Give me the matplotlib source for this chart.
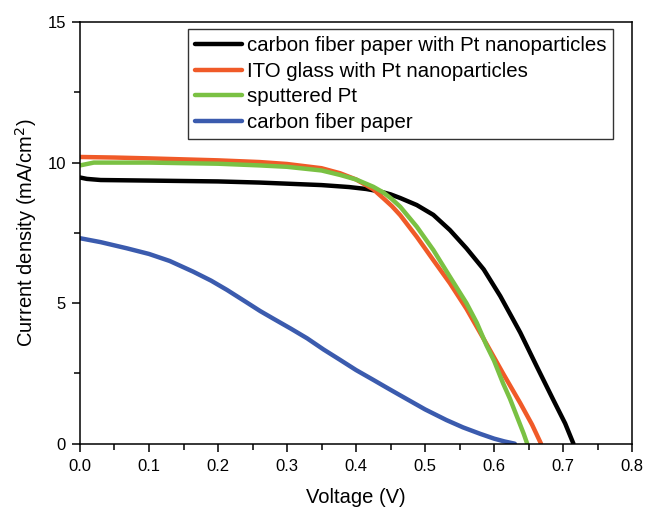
import matplotlib
matplotlib.use("Agg")
import matplotlib.pyplot as plt
from matplotlib.ticker import MultipleLocator

plt.rcParams['font.family'] = ['Liberation Sans', 'DejaVu Sans']

# Data (Voltage V, current density mA/cm^2)
v_black = [0.0, 0.01, 0.03, 0.1, 0.2, 0.26, 0.3, 0.35, 0.39, 0.415, 0.435, 0.45, 0.464, 0.488,
           0.512, 0.536, 0.56, 0.585, 0.609, 0.628, 0.638, 0.662, 0.686, 0.703, 0.715]
j_black = [9.47, 9.42, 9.38, 9.36, 9.33, 9.29, 9.25, 9.2, 9.13, 9.06, 8.97, 8.87, 8.74, 8.49,
           8.14, 7.6, 6.95, 6.2, 5.25, 4.4, 3.95, 2.74, 1.55, 0.72, 0.0]

v_red = [0.0, 0.05, 0.1, 0.2, 0.26, 0.3, 0.35, 0.377, 0.4, 0.425, 0.44, 0.452, 0.464, 0.488,
         0.512, 0.536, 0.56, 0.589, 0.613, 0.638, 0.655, 0.668]
j_red = [10.2, 10.18, 10.15, 10.08, 10.02, 9.95, 9.8, 9.62, 9.4, 9.05, 8.72, 8.45, 8.13, 7.36,
         6.53, 5.71, 4.8, 3.55, 2.5, 1.44, 0.68, 0.0]

v_green = [0.0, 0.02, 0.1, 0.2, 0.26, 0.3, 0.35, 0.377, 0.4, 0.425, 0.44, 0.452, 0.464, 0.488,
           0.512, 0.536, 0.56, 0.575, 0.589, 0.6, 0.613, 0.623, 0.635, 0.643, 0.648]
j_green = [9.9, 10.0, 10.0, 9.96, 9.9, 9.85, 9.72, 9.56, 9.4, 9.14, 8.93, 8.7, 8.43, 7.72,
           6.89, 5.94, 5.0, 4.3, 3.5, 2.95, 2.15, 1.6, 0.85, 0.35, 0.0]

v_blue = [0.0, 0.03, 0.068, 0.1, 0.13, 0.164, 0.19, 0.213, 0.24, 0.261, 0.28, 0.305, 0.329,
          0.353, 0.377, 0.4, 0.425, 0.444, 0.464, 0.5, 0.531, 0.555, 0.58, 0.6, 0.615, 0.63]
j_blue = [7.31, 7.17, 6.95, 6.75, 6.5, 6.12, 5.8, 5.47, 5.05, 4.72, 4.45, 4.1, 3.75,
          3.35, 2.98, 2.62, 2.27, 2.0, 1.72, 1.22, 0.84, 0.58, 0.35, 0.18, 0.08, 0.0]

labels = ["carbon fiber paper with Pt nanoparticles", "ITO glass with Pt nanoparticles",
          "sputtered Pt", "carbon fiber paper"]
colors = ["#000000", "#F05A28", "#7AC143", "#3B5BAE"]
xtick_labels = ["0.0", "0.1", "0.2", "0.3", "0.4", "0.5", "0.6", "0.7", "0.8"]
xtick_vals = [0.0, 0.1, 0.2, 0.3, 0.4, 0.5, 0.6, 0.7, 0.8]

fig = plt.figure(figsize=(6.45, 5.08), dpi=100)
ax = fig.add_axes([0.124, 0.1266, 0.856, 0.83])

for v, j, lab, c in zip([v_black, v_red, v_green, v_blue], [j_black, j_red, j_green, j_blue],
                        labels, colors):
    ax.plot(v, j, color=c, lw=3.2, label=lab, solid_capstyle='round', solid_joinstyle='round')

ax.set_xlim(0, 0.8)
ax.set_ylim(0, 15)
ax.set_xticks(xtick_vals)
ax.set_xticklabels(xtick_labels)
ax.xaxis.set_minor_locator(MultipleLocator(0.05))
ax.yaxis.set_major_locator(MultipleLocator(5))
ax.yaxis.set_minor_locator(MultipleLocator(2.5))
ax.tick_params(which='major', direction='out', length=6, width=1.1, labelsize=12,
               top=False, right=False)
ax.tick_params(axis='x', which='major', pad=5)
ax.tick_params(axis='y', which='major', pad=4)
ax.tick_params(which='minor', direction='out', length=4, width=1.1, top=False, right=False)
for s in ax.spines.values():
    s.set_linewidth(1.1)

ax.set_xlabel("Voltage (V)", fontsize=14.5, labelpad=10)
ax.set_ylabel("Current density (mA/cm$^2$)", fontsize=14.5, labelpad=6)

leg = ax.legend(loc='upper right', bbox_to_anchor=(0.9656, 0.983), fontsize=14.7,
                frameon=True, fancybox=False, edgecolor='black', handlelength=2.3,
                handletextpad=0.25, labelspacing=0.33, borderpad=0.33, borderaxespad=0)
leg.get_frame().set_linewidth(1.0)

fig.savefig("out.png", dpi=100)
